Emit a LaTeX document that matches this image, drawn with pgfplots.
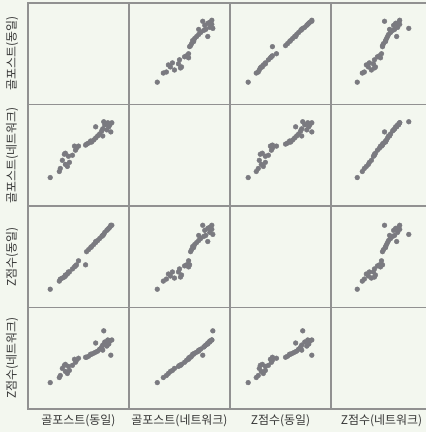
\documentclass[border=0pt]{standalone}
\usepackage{pgfplots}
\pgfplotsset{compat=1.18}
\usepackage{pgfplotstable}
\usepackage{fontspec}
\setmainfont{Noto Sans CJK KR}
\definecolor{bg}{RGB}{243,247,239}
\definecolor{gridgray}{RGB}{145,145,145}
\definecolor{pt}{RGB}{122,122,128}
\definecolor{lab}{RGB}{55,55,55}

\pgfplotstableread{
A B C D
0.22 0.28 0.18 0.26
0.31 0.34 0.26 0.31
0.32 0.37 0.28 0.33
0.39 0.39 0.33 0.35
0.37 0.41 0.31 0.37
0.41 0.43 0.35 0.38
0.40 0.49 0.35 0.42
0.36 0.51 0.30 0.43
0.37 0.52 0.32 0.44
0.47 0.55 0.41 0.46
0.48 0.57 0.42 0.48
0.46 0.59 0.40 0.49
0.50 0.59 0.46 0.50
0.57 0.60 0.42 0.51
0.60 0.62 0.57 0.52
0.62 0.64 0.59 0.54
0.67 0.67 0.64 0.56
0.69 0.69 0.66 0.57
0.71 0.71 0.68 0.59
0.73 0.74 0.70 0.61
0.74 0.76 0.71 0.63
0.67 0.78 0.65 0.65
0.76 0.80 0.74 0.66
0.75 0.83 0.72 0.77
0.82 0.73 0.81 0.53
0.80 0.78 0.78 0.64
0.83 0.82 0.81 0.68
0.81 0.80 0.79 0.67
0.74 0.69 0.71 0.58
0.65 0.65 0.62 0.55
0.58 0.61 0.55 0.51
0.63 0.63 0.60 0.54
0.78 0.75 0.76 0.62
0.34 0.45 0.29 0.40
0.44 0.50 0.38 0.43
0.79 0.82 0.77 0.68
}\data

\pgfplotsset{cellstyle/.style={
  width=101bp, height=101.5bp, scale only axis, anchor=south west,
  xmin=0, xmax=1, ymin=0, ymax=1, ticks=none,
  axis line style={draw=gridgray, line width=1.1bp},
  axis background/.style={fill=bg}}}

% #1 col (0..3), #2 row from top (0..3), #3 x var, #4 y var
\newcommand\cell[4]{%
\begin{axis}[cellstyle, at={(28bp+#1*101bp, 23bp+3*101.5bp-#2*101.5bp)}]
\addplot[only marks, mark=*, mark size=2.4bp, mark options={draw=pt, fill=pt}] table[x=#3, y=#4]{\data};
\end{axis}}
\newcommand\emptycell[2]{%
\begin{axis}[cellstyle, at={(28bp+#1*101bp, 23bp+3*101.5bp-#2*101.5bp)}]
\end{axis}}

\begin{document}
\begin{tikzpicture}
\fill[bg] (0,0) rectangle (426bp,432bp);
\useasboundingbox (0,0) rectangle (426bp,432bp);
% row 0: y = A
\emptycell{0}{0}
\cell{1}{0}{B}{A}
\cell{2}{0}{C}{A}
\cell{3}{0}{D}{A}
% row 1: y = B
\cell{0}{1}{A}{B}
\emptycell{1}{1}
\cell{2}{1}{C}{B}
\cell{3}{1}{D}{B}
% row 2: y = C
\cell{0}{2}{A}{C}
\cell{1}{2}{B}{C}
\emptycell{2}{2}
\cell{3}{2}{D}{C}
% row 3: y = D
\cell{0}{3}{A}{D}
\cell{1}{3}{B}{D}
\cell{2}{3}{C}{D}
\emptycell{3}{3}
% labels
\begin{scope}[every node/.style={font=\fontsize{12}{14}\selectfont, text=lab, inner sep=0pt}]
\node[rotate=90] at (12bp, 23bp+3.5*101.5bp) {골포스트(동일)};
\node[rotate=90] at (12bp, 23bp+2.5*101.5bp) {골포스트(네트워크)};
\node[rotate=90] at (12bp, 23bp+1.5*101.5bp) {Z점수(동일)};
\node[rotate=90] at (12bp, 23bp+0.5*101.5bp) {Z점수(네트워크)};
\node at (28bp+0.5*101bp, 11.5bp) {골포스트(동일)};
\node at (28bp+1.5*101bp, 11.5bp) {골포스트(네트워크)};
\node at (28bp+2.5*101bp, 11.5bp) {Z점수(동일)};
\node at (28bp+3.5*101bp, 11.5bp) {Z점수(네트워크)};
\end{scope}
\end{tikzpicture}
\end{document}
